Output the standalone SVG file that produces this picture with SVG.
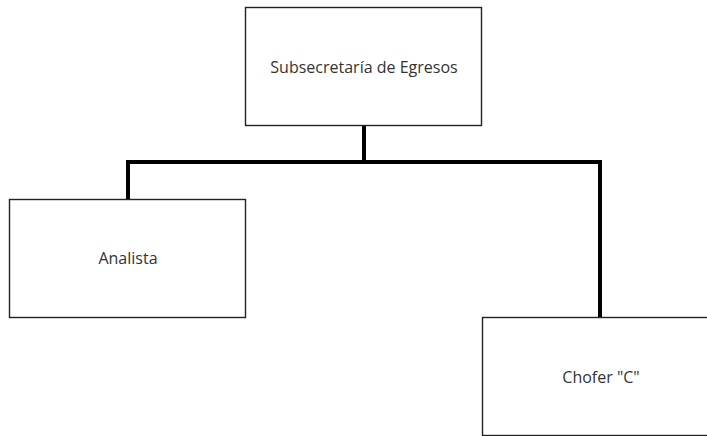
<svg xmlns="http://www.w3.org/2000/svg" width="707" height="436" viewBox="0 0 707 436">
<style>
.box{fill:#fff;stroke:#222;stroke-width:1.4}
.lbl{font-family:"Open Sans","Liberation Sans",sans-serif;font-size:16px;fill:#333;text-anchor:middle;dominant-baseline:central}
.conn{fill:none;stroke:#000;stroke-width:4}
</style>
<rect width="707" height="436" fill="#fff"/>
<g id="connectors">
<path class="conn" d="M364 126 V162 M128 199 V162 H600 V317"/>
</g>
<g id="subsecretaria">
<rect class="box" x="245.5" y="7.5" width="236" height="118"/>
<text class="lbl" x="364" y="67">Subsecretaría de Egresos</text>
</g>
<g id="analista">
<rect class="box" x="9.5" y="199.5" width="236" height="118"/>
<text class="lbl" x="128" y="258">Analista</text>
</g>
<g id="chofer">
<rect class="box" x="482.5" y="317.5" width="236" height="118"/>
<text class="lbl" x="601" y="377">Chofer "C"</text>
</g>
</svg>
